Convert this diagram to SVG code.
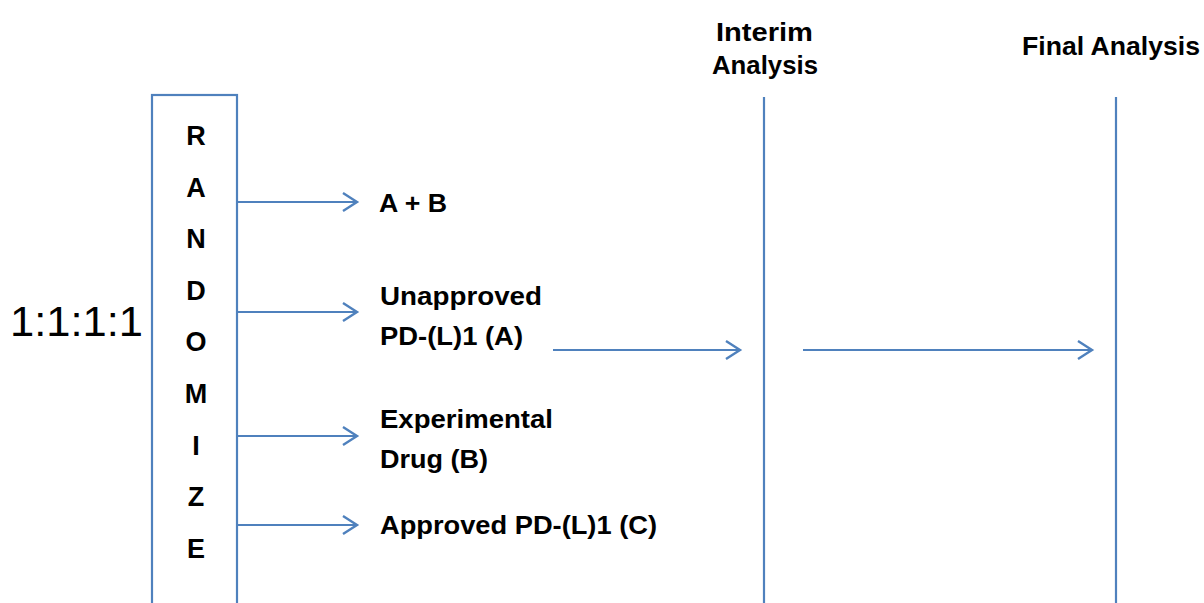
<svg xmlns="http://www.w3.org/2000/svg" width="1204" height="603" viewBox="0 0 1204 603">
<style>
.ln{stroke:#4f81bd;stroke-width:2.2;fill:none}
.t{font-family:"Liberation Sans",Arial,sans-serif;font-weight:bold;font-size:25px;fill:#000}
.r{font-family:"Liberation Sans",Arial,sans-serif;font-weight:bold;font-size:27px;fill:#000;text-anchor:middle}
</style>
<defs>
<marker id="ah" markerWidth="20" markerHeight="22" viewBox="0 0 20 22" refX="17" refY="11" orient="auto" markerUnits="userSpaceOnUse">
<path d="M3,2 L17,11 L3,20" fill="none" stroke="#4f81bd" stroke-width="2.4"/>
</marker>
</defs>
<rect width="1204" height="603" fill="#fff"/>
<g id="ratio"><text x="10" y="336" font-family="'Liberation Sans',Arial,sans-serif" font-size="42" fill="#000" textLength="133" lengthAdjust="spacingAndGlyphs">1:1:1:1</text></g>
<g id="randomize">
<rect x="152" y="95" width="85" height="512" class="ln"/>
<text class="r" x="196" y="145">R</text>
<text class="r" x="196" y="197">A</text>
<text class="r" x="196" y="248">N</text>
<text class="r" x="196" y="300">D</text>
<text class="r" x="196" y="351">O</text>
<text class="r" x="196" y="403">M</text>
<text class="r" x="196" y="455">I</text>
<text class="r" x="196" y="506">Z</text>
<text class="r" x="196" y="558">E</text>
</g>
<g id="armAB"><text class="t" x="379" y="212" textLength="68" lengthAdjust="spacingAndGlyphs">A + B</text></g>
<g id="armA"><text class="t" x="380" y="305" textLength="162" lengthAdjust="spacingAndGlyphs">Unapproved</text><text class="t" x="380" y="345" textLength="143" lengthAdjust="spacingAndGlyphs">PD-(L)1 (A)</text></g>
<g id="armB"><text class="t" x="380" y="428" textLength="173" lengthAdjust="spacingAndGlyphs">Experimental</text><text class="t" x="380" y="468" textLength="108" lengthAdjust="spacingAndGlyphs">Drug (B)</text></g>
<g id="armC"><text class="t" x="380" y="534" textLength="277" lengthAdjust="spacingAndGlyphs">Approved PD-(L)1 (C)</text></g>
<g id="interim"><text class="t" x="716" y="41" textLength="97" lengthAdjust="spacingAndGlyphs">Interim</text><text class="t" x="712" y="74" textLength="106" lengthAdjust="spacingAndGlyphs">Analysis</text><line class="ln" x1="764" y1="97" x2="764" y2="603"/></g>
<g id="final"><text class="t" x="1022" y="55" textLength="178" lengthAdjust="spacingAndGlyphs">Final Analysis</text><line class="ln" x1="1116" y1="97" x2="1116" y2="603"/></g>
<g id="connectors">
<line class="ln" x1="237" y1="202" x2="357" y2="202" marker-end="url(#ah)"/>
<line class="ln" x1="237" y1="312" x2="357" y2="312" marker-end="url(#ah)"/>
<line class="ln" x1="237" y1="436" x2="357" y2="436" marker-end="url(#ah)"/>
<line class="ln" x1="237" y1="525" x2="357" y2="525" marker-end="url(#ah)"/>
<line class="ln" x1="553" y1="350" x2="740" y2="350" marker-end="url(#ah)"/>
<line class="ln" x1="803" y1="350" x2="1092" y2="350" marker-end="url(#ah)"/>
</g>
</svg>
